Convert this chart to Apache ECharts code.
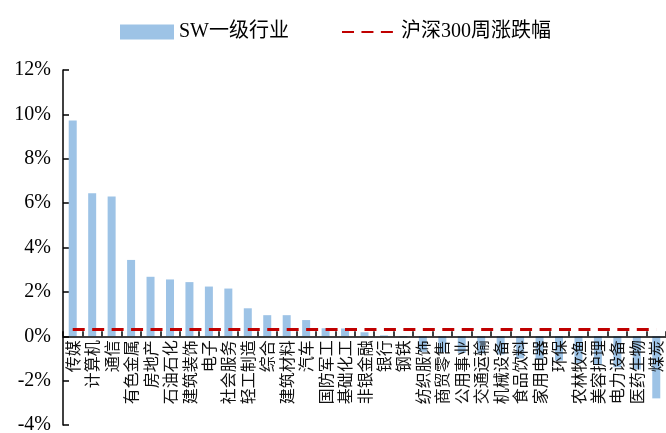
<!DOCTYPE html>
<html>
<head>
<meta charset="utf-8">
<script src="https://cdn.jsdelivr.net/npm/echarts@6/dist/echarts.min.js"></script>
<style>html,body{margin:0;padding:0;background:#fff}#c{width:666px;height:433px}</style>
</head>
<body>
<div id="c"></div>
<script>
var categories = ['传媒','计算机','通信','有色金属','房地产','石油石化','建筑装饰','电子','社会服务','轻工制造','综合','建筑材料','汽车','国防军工','基础化工','非银金融','银行','钢铁','纺织服饰','商贸零售','公用事业','交通运输','机械设备','食品饮料','家用电器','环保','农林牧渔','美容护理','电力设备','医药生物','煤炭'];
var swValues = [9.72, 6.44, 6.30, 3.44, 2.68, 2.56, 2.44, 2.24, 2.15, 1.26, 0.95, 0.95, 0.73, 0.36, 0.35, 0.18, 0.04, -0.05, -0.70, -0.72, -0.75, -0.78, -0.82, -1.00, -1.05, -1.10, -1.20, -1.30, -1.40, -1.50, -2.80];
var hs300Values = [0.3,0.3,0.3,0.3,0.3,0.3,0.3,0.3,0.3,0.3,0.3,0.3,0.3,0.3,0.3,0.3,0.3,0.3,0.3,0.3,0.3,0.3,0.3,0.3,0.3,0.3,0.3,0.3,0.3,0.3,0.3];
var yTicks = {min: -4, max: 12, interval: 2};
var seriesNames = ['SW一级行业', '沪深300周涨跌幅'];

var gridTop = 70, gridBottom = 8, H = 433;
var plotH = H - gridTop - gridBottom;
var zeroOffset = -plotH * (0 - yTicks.min) / (yTicks.max - yTicks.min);

var chart = echarts.init(document.getElementById('c'), null, {renderer: 'canvas'});
var serif = "'Liberation Serif', 'Noto Sans CJK SC', serif";
chart.setOption({
  animation: false,
  backgroundColor: '#fff',
  legend: {
    left: 115, top: 17,
    itemGap: 52,
    itemWidth: 54, itemHeight: 15,
    textStyle: {fontFamily: serif, fontSize: 20, color: '#000'},
    data: [
      {name: seriesNames[0], icon: 'rect'},
      {name: seriesNames[1], itemStyle: {opacity: 0}}
    ]
  },
  grid: {left: 63, right: 0, top: gridTop, bottom: gridBottom, containLabel: false, outerBoundsMode: 'none'},
  xAxis: {
    type: 'category',
    data: categories,
    boundaryGap: true,
    offset: zeroOffset,
    z: 10,
    axisLine: {onZero: false, lineStyle: {color: '#000', width: 1.5}},
    axisTick: {show: true, inside: true, length: 5, alignWithLabel: false, lineStyle: {color: '#000', width: 1.5}},
    axisLabel: {
      interval: 0, rotate: 90, margin: 4, hideOverlap: false,
      fontFamily: "'Noto Sans CJK SC', sans-serif", fontSize: 16, color: '#111'
    }
  },
  yAxis: {
    type: 'value',
    min: yTicks.min, max: yTicks.max, interval: yTicks.interval,
    splitLine: {show: false},
    axisLine: {show: true, lineStyle: {color: '#000', width: 1.5}},
    axisTick: {show: true, inside: true, length: 6, lineStyle: {color: '#000', width: 1.5}},
    axisLabel: {formatter: '{value}%', fontFamily: serif, fontSize: 20, color: '#000', margin: 12}
  },
  series: [
    {
      name: seriesNames[0], type: 'bar', data: swValues,
      barWidth: 8,
      itemStyle: {color: '#9dc3e6'}
    },
    {
      name: seriesNames[1], type: 'line', data: hs300Values,
      symbol: 'none',
      lineStyle: {color: '#c00000', width: 3, type: [12, 7.45]},
      itemStyle: {color: '#c00000'},
      z: 5
    }
  ]
});
</script>
</body>
</html>
